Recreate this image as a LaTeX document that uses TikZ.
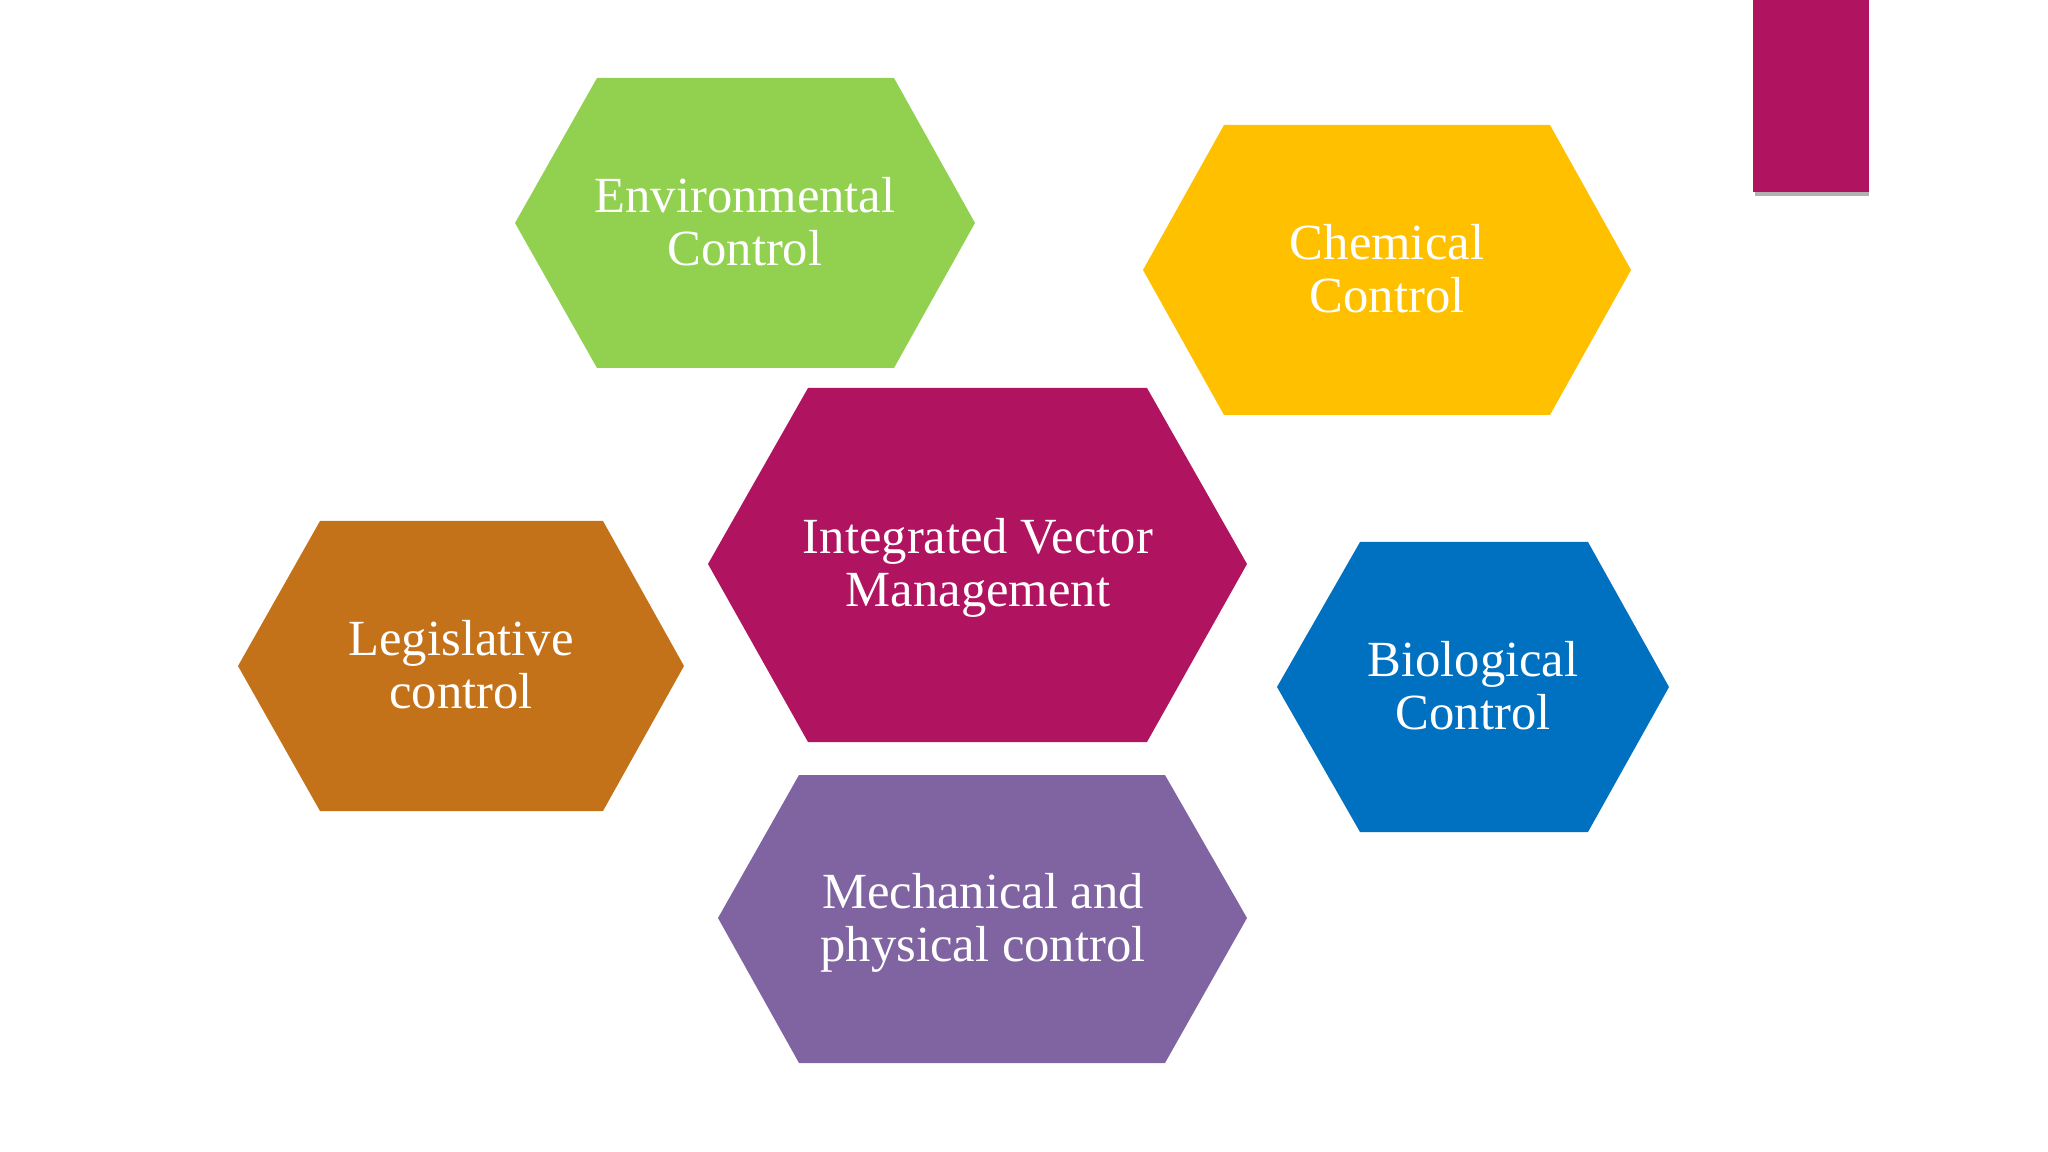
\documentclass[tikz,border=0pt]{standalone}
\usepackage{fontspec}
\setmainfont{Liberation Serif}
\definecolor{envgreen}{HTML}{92D050}
\definecolor{chemyellow}{HTML}{FFC000}
\definecolor{ivmmagenta}{HTML}{B01360}
\definecolor{legorange}{HTML}{C47219}
\definecolor{bioblue}{HTML}{0070C0}
\definecolor{mechpurple}{HTML}{8064A2}

\begin{document}
\begin{tikzpicture}[
        x=0.01cm, y=-0.01cm,
        label/.style = {text=white, align=center, inner sep=0pt, font=\fontsize{14.4}{15}\selectfont}
    ]
        \useasboundingbox (0,0) rectangle (2048,1152);
        % corner bar
        \fill[black!30] (1755,4) rectangle (1869,196);
        \fill[ivmmagenta] (1753,0) rectangle (1869,192);
        % hexagons
        \fill[envgreen] (515,223) -- (597,78) -- (894,78) -- (975,223) -- (894,368) -- (597,368) -- cycle;
        \node[label] (env) at (745,222) {Environmental\\Control};
        \fill[chemyellow] (1143,270) -- (1224,125) -- (1550,125) -- (1631,270) -- (1550,415) -- (1224,415) -- cycle;
        \node[label] (chem) at (1387,269) {Chemical\\Control};
        \fill[ivmmagenta] (708,564) -- (808,388) -- (1147,388) -- (1247,564) -- (1147,742) -- (808,742) -- cycle;
        \node[label] (ivm) at (978,568) {Integrated Vector\\Management};
        \fill[legorange] (238,666) -- (320,521) -- (603,521) -- (684,666) -- (603,811) -- (320,811) -- cycle;
        \node[label] (leg) at (461,665) {Legislative\\control};
        \fill[bioblue] (1277,687) -- (1360,542) -- (1588,542) -- (1669,687) -- (1588,832) -- (1360,832) -- cycle;
        \node[label] (bio) at (1473,686) {Biological\\Control};
        \fill[mechpurple] (718,918) -- (799,775) -- (1165,775) -- (1247,918) -- (1165,1063) -- (799,1063) -- cycle;
        \node[label] (mech) at (983,923) {Mechanical and\\physical control};
    \end{tikzpicture}
\end{document}
